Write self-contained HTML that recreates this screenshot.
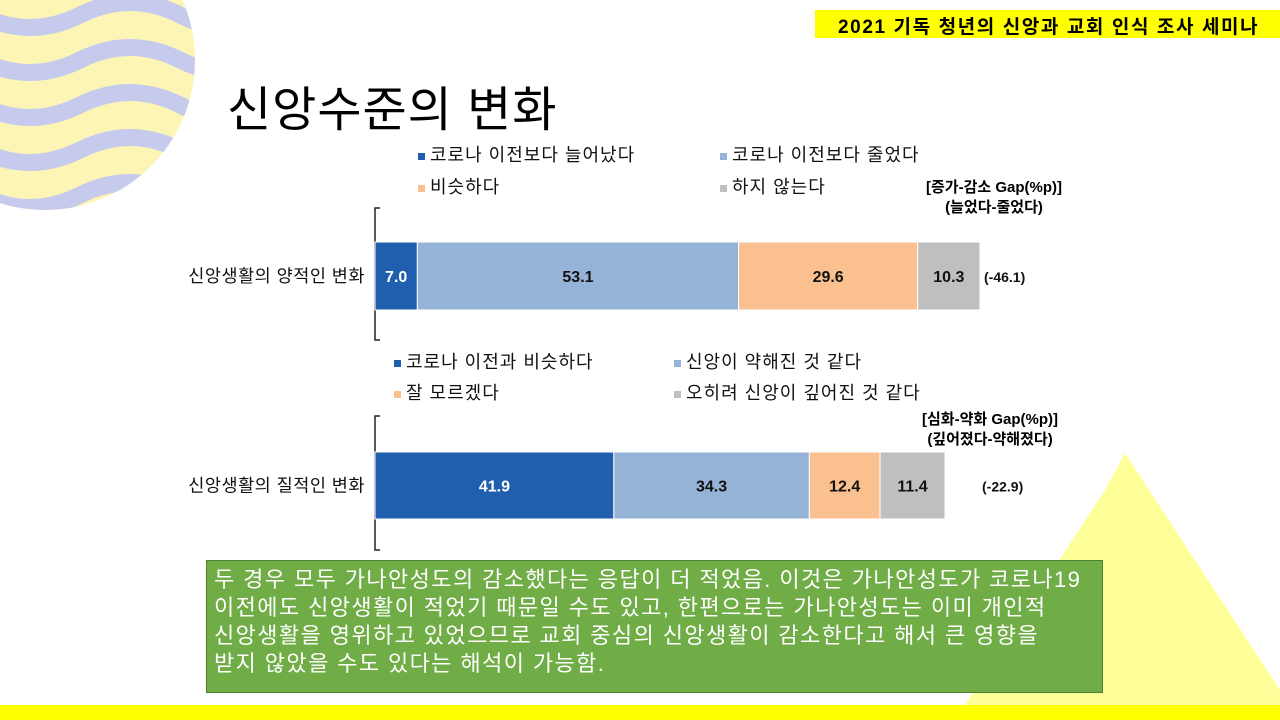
<!DOCTYPE html>
<html><head><meta charset="utf-8"><style>
body{margin:0;width:1280px;height:720px;overflow:hidden;background:#fff;position:relative;font-family:"Liberation Sans","Noto Sans CJK KR",sans-serif}
.abs{position:absolute}
.leg{position:absolute;font-size:18px;letter-spacing:1px;color:#111;white-space:nowrap}
.leg i{display:inline-block;width:7px;height:7px;margin-right:5px;vertical-align:middle}
.bold{font-weight:bold}
</style></head><body>
<svg class="abs" style="left:0;top:0" width="1280" height="720">
<defs><clipPath id="cc"><circle cx="45" cy="60" r="150"/></clipPath></defs>
<g clip-path="url(#cc)">
<rect x="-120" y="-100" width="330" height="320" fill="#fdf5b5"/>
<g fill="none" stroke="#c6cbee" stroke-width="17">
<path d="M-120 -30 q50 -25 100 0 t100 0 t100 0 t100 0"/>
<path d="M-120 15 q50 -25 100 0 t100 0 t100 0 t100 0"/>
<path d="M-120 60 q50 -25 100 0 t100 0 t100 0 t100 0"/>
<path d="M-120 105 q50 -25 100 0 t100 0 t100 0 t100 0"/>
<path d="M-120 150 q50 -25 100 0 t100 0 t100 0 t100 0"/>
<path d="M-120 195 q50 -25 100 0 t100 0 t100 0 t100 0"/>
</g></g>
<polygon points="1125,453 1280,690 1280,705 965,705 1105,490" fill="#ffff99"/>
<rect x="0" y="705" width="1280" height="15" fill="#ffff00"/>
<rect x="815" y="10" width="465" height="28" fill="#ffff00"/>
<g id="chart"></g>
</svg>
<div class="abs bold" style="left:838px;top:12px;font-size:19px;letter-spacing:1.6px">2021 기독 청년의 신앙과 교회 인식 조사 세미나</div>
<div class="abs" style="left:227px;top:70px;font-size:48px;letter-spacing:1px">신앙수준의 변화</div>

<div class="leg" style="left:418px;top:141px"><i style="background:#1f5fae"></i>코로나 이전보다 늘어났다</div>
<div class="leg" style="left:720px;top:141px"><i style="background:#95b3d7"></i>코로나 이전보다 줄었다</div>
<div class="leg" style="left:418px;top:173px"><i style="background:#fac090"></i>비슷하다</div>
<div class="leg" style="left:720px;top:173px"><i style="background:#bfbfbf"></i>하지 않는다</div>
<div class="abs bold" style="left:926px;top:178px;font-size:15px;text-align:center;line-height:20px">[증가-감소 Gap(%p)]<br>(늘었다-줄었다)</div>

<div class="leg" style="left:394px;top:348px"><i style="background:#1f5fae"></i>코로나 이전과 비슷하다</div>
<div class="leg" style="left:674px;top:348px"><i style="background:#95b3d7"></i>신앙이 약해진 것 같다</div>
<div class="leg" style="left:394px;top:379px"><i style="background:#fac090"></i>잘 모르겠다</div>
<div class="leg" style="left:674px;top:379px"><i style="background:#bfbfbf"></i>오히려 신앙이 깊어진 것 같다</div>
<div class="abs bold" style="left:922px;top:410px;font-size:15px;text-align:center;line-height:20px">[심화-약화 Gap(%p)]<br>(깊어졌다-약해졌다)</div>

<div class="abs" style="left:206px;top:560px;width:881px;height:121px;background:#70ad47;border:1px solid #507e32;color:#fff;font-size:22px;letter-spacing:1.4px;line-height:28px;padding:5px 7px;white-space:nowrap">두 경우 모두 가나안성도의 감소했다는 응답이 더 적었음. 이것은 가나안성도가 코로나19<br>이전에도 신앙생활이 적었기 때문일 수도 있고, 한편으로는 가나안성도는 이미 개인적<br>신앙생활을 영위하고 있었으므로 교회 중심의 신앙생활이 감소한다고 해서 큰 영향을<br>받지 않았을 수도 있다는 해석이 가능함.</div>

<script>
const categories=["신앙생활의 양적인 변화","신앙생활의 질적인 변화"];
const series1=[7.0,53.1,29.6,10.3];
const series2=[41.9,34.3,12.4,11.4];
const gapLabels=["(-46.1)","(-22.9)"];
const NS="http://www.w3.org/2000/svg";
const g=document.getElementById('chart');
const colors=["#1f5fae","#95b3d7","#fac090","#bfbfbf"];
const txtColors=["#fff","#111","#111","#111"];
function mk(t,a){const e=document.createElementNS(NS,t);for(const k in a)e.setAttribute(k,a[k]);g.appendChild(e);return e;}
function drawBar(vals,ci,y0,h,width,axTop,axBot,gapX){
  const x0=375;const total=vals.reduce((a,b)=>a+b,0);
  const sx=v=>v/total*width;
  const ax=mk('path',{d:`M${x0+5} ${axTop}H${x0}V${axBot}H${x0+5}`,stroke:'#222','stroke-width':1.5,fill:'none'});
  
  
  let x=x0;
  vals.forEach((v,i)=>{
    const w=sx(v);
    const r=mk('rect',{x:x,y:y0,width:w,height:h,fill:colors[i],stroke:'#fff','stroke-width':1});
    
    
    const t=mk('text',{x:x+w/2,y:y0+h/2+6,'text-anchor':'middle','font-size':16,'font-weight':'bold',fill:txtColors[i],'font-family':'Liberation Sans,sans-serif'});
    t.textContent=v.toFixed(1);
    
    
    x+=w;
  });
  const c=mk('text',{x:x0-10,y:y0+h/2+6,'text-anchor':'end','font-size':17.5,'letter-spacing':0.5,fill:'#111','font-family':'Liberation Sans,Noto Sans CJK KR,sans-serif'});
  c.textContent=categories[ci];
  
  
  const gl=mk('text',{x:gapX,y:y0+h/2+6,'font-size':14,'font-weight':'bold',fill:'#111','font-family':'Liberation Sans,sans-serif'});
  gl.textContent=gapLabels[ci];
  
  
}
drawBar(series1,0,242,68,605,208,340,984);
drawBar(series2,1,452,67,570,416,550,982);
</script>
</body></html>
